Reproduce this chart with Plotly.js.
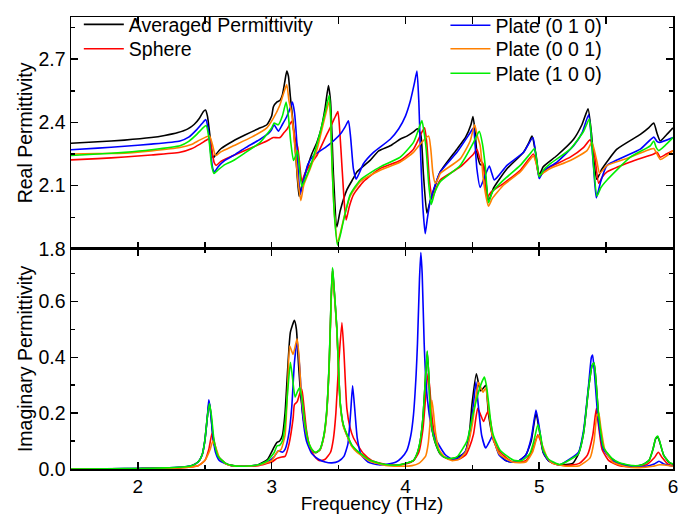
<!DOCTYPE html>
<html>
<head>
<meta charset="utf-8">
<script src="https://cdn.plot.ly/plotly-3.0.1.min.js"></script>
<style>html,body{margin:0;padding:0;background:#fff;}#chart{width:690px;height:514px;}</style>
</head>
<body>
<div id="chart"></div>
<script>
// Series names
const seriesNames = ["Averaged Permittivity", "Sphere", "Plate (0 1 0)", "Plate (0 0 1)", "Plate (1 0 0)"];
const seriesColors = ["#000000", "#ff0000", "#0000ff", "#ff8000", "#00ee00"];

// Real permittivity [frequency THz, value]
const avgRe = [[1.5,2.301],[1.7,2.308],[1.9,2.316],[2.1,2.328],[2.2,2.338],[2.3,2.352],[2.37,2.368],[2.42,2.39],[2.46,2.42],[2.49,2.452],[2.505,2.459],[2.52,2.43],[2.54,2.33],[2.555,2.25],[2.565,2.232],[2.58,2.245],[2.62,2.275],[2.713,2.312],[2.8,2.34],[2.9,2.37],[2.964,2.389],[3.0,2.43],[3.013,2.474],[3.04,2.497],[3.063,2.505],[3.08,2.53],[3.1,2.6],[3.113,2.644],[3.125,2.62],[3.14,2.52],[3.163,2.38],[3.185,2.2],[3.205,2.05],[3.225,2.1],[3.263,2.18],[3.3,2.25],[3.338,2.305],[3.37,2.37],[3.4,2.47],[3.424,2.575],[3.44,2.5],[3.462,2.15],[3.487,1.903],[3.512,1.98],[3.562,2.08],[3.61,2.134],[3.637,2.165],[3.736,2.22],[3.8,2.265],[3.886,2.289],[3.96,2.32],[4.011,2.335],[4.06,2.355],[4.09,2.37],[4.115,2.34],[4.135,2.15],[4.16,1.97],[4.185,2.026],[4.26,2.165],[4.385,2.273],[4.45,2.33],[4.49,2.39],[4.505,2.428],[4.52,2.36],[4.534,2.258],[4.56,2.2],[4.584,2.196],[4.605,2.1],[4.621,2.026],[4.66,2.09],[4.759,2.18],[4.883,2.258],[4.92,2.3],[4.946,2.335],[4.975,2.25],[5.0,2.15],[5.03,2.19],[5.133,2.243],[5.257,2.32],[5.32,2.39],[5.365,2.464],[5.39,2.35],[5.407,2.227],[5.43,2.13],[5.47,2.18],[5.581,2.273],[5.756,2.343],[5.82,2.375],[5.856,2.397],[5.88,2.35],[5.905,2.312],[5.95,2.34],[6.0,2.374]];
const sphereRe = [[1.5,2.222],[1.7,2.228],[1.9,2.236],[2.1,2.245],[2.315,2.258],[2.4,2.275],[2.465,2.297],[2.51,2.315],[2.535,2.323],[2.55,2.28],[2.57,2.21],[2.585,2.196],[2.62,2.215],[2.714,2.243],[2.85,2.28],[2.964,2.312],[3.0,2.325],[3.013,2.328],[3.063,2.328],[3.09,2.35],[3.113,2.366],[3.15,2.405],[3.165,2.36],[3.176,2.32],[3.195,2.281],[3.21,2.2],[3.225,2.12],[3.25,2.16],[3.3,2.21],[3.338,2.243],[3.412,2.343],[3.437,2.374],[3.47,2.42],[3.495,2.451],[3.51,2.35],[3.525,2.196],[3.545,2.0],[3.557,1.937],[3.58,2.0],[3.612,2.057],[3.686,2.119],[3.811,2.181],[3.961,2.219],[4.06,2.273],[4.12,2.35],[4.143,2.374],[4.16,2.3],[4.18,2.12],[4.202,2.042],[4.23,2.09],[4.26,2.127],[4.409,2.189],[4.509,2.25],[4.534,2.273],[4.56,2.22],[4.58,2.204],[4.595,2.12],[4.61,2.042],[4.64,2.07],[4.734,2.111],[4.858,2.173],[4.957,2.25],[4.98,2.2],[5.0,2.142],[5.04,2.17],[5.083,2.189],[5.232,2.235],[5.33,2.28],[5.38,2.317],[5.414,2.243],[5.444,2.111],[5.47,2.14],[5.507,2.165],[5.681,2.212],[5.856,2.25],[5.881,2.258],[5.905,2.235],[5.95,2.25],[6.0,2.266]];
const p010Re = [[1.5,2.27],[1.7,2.278],[1.9,2.287],[2.1,2.297],[2.315,2.312],[2.38,2.33],[2.44,2.366],[2.48,2.395],[2.508,2.413],[2.525,2.37],[2.545,2.25],[2.56,2.18],[2.572,2.165],[2.6,2.19],[2.65,2.22],[2.714,2.243],[2.8,2.278],[2.914,2.32],[2.98,2.35],[3.0,2.366],[3.018,2.389],[3.035,2.372],[3.05,2.358],[3.08,2.39],[3.113,2.428],[3.14,2.47],[3.155,2.497],[3.17,2.45],[3.188,2.305],[3.2,2.15],[3.213,2.057],[3.24,2.13],[3.27,2.2],[3.313,2.243],[3.4,2.28],[3.462,2.312],[3.52,2.35],[3.55,2.38],[3.574,2.408],[3.59,2.33],[3.611,2.18],[3.632,2.131],[3.655,2.16],[3.686,2.204],[3.761,2.258],[3.886,2.32],[3.95,2.37],[4.0,2.43],[4.036,2.5],[4.065,2.58],[4.086,2.644],[4.1,2.5],[4.11,2.305],[4.13,2.0],[4.148,1.872],[4.165,1.95],[4.185,2.026],[4.22,2.1],[4.26,2.165],[4.385,2.258],[4.484,2.351],[4.509,2.374],[4.52,2.3],[4.534,2.18],[4.559,2.091],[4.59,2.14],[4.627,2.193],[4.645,2.16],[4.664,2.127],[4.7,2.15],[4.759,2.196],[4.883,2.258],[4.953,2.328],[4.975,2.24],[5.0,2.134],[5.03,2.17],[5.133,2.212],[5.257,2.289],[5.32,2.35],[5.369,2.436],[5.39,2.32],[5.407,2.18],[5.427,2.042],[5.46,2.12],[5.507,2.196],[5.756,2.273],[5.856,2.33],[5.88,2.31],[5.9,2.305],[6.0,2.328]];
const p001Re = [[1.5,2.25],[1.7,2.252],[1.9,2.254],[2.1,2.265],[2.315,2.281],[2.4,2.295],[2.465,2.317],[2.535,2.335],[2.555,2.3],[2.575,2.25],[2.585,2.243],[2.62,2.26],[2.714,2.289],[2.85,2.33],[2.964,2.374],[3.013,2.42],[3.06,2.48],[3.09,2.54],[3.113,2.579],[3.13,2.5],[3.15,2.444],[3.175,2.273],[3.2,2.103],[3.218,2.029],[3.24,2.103],[3.288,2.18],[3.338,2.27],[3.362,2.33],[3.4,2.43],[3.43,2.5],[3.44,2.43],[3.45,2.22],[3.47,1.96],[3.492,1.83],[3.515,1.88],[3.537,1.94],[3.587,2.05],[3.662,2.119],[3.811,2.173],[3.961,2.212],[4.06,2.258],[4.11,2.297],[4.173,2.335],[4.19,2.27],[4.205,2.16],[4.223,2.111],[4.245,2.135],[4.26,2.158],[4.409,2.227],[4.484,2.312],[4.517,2.389],[4.54,2.33],[4.559,2.289],[4.584,2.119],[4.621,2.003],[4.65,2.04],[4.734,2.103],[4.858,2.165],[4.957,2.24],[4.98,2.2],[5.0,2.15],[5.04,2.165],[5.083,2.181],[5.232,2.219],[5.357,2.266],[5.394,2.305],[5.415,2.26],[5.432,2.212],[5.452,2.158],[5.507,2.196],[5.681,2.235],[5.83,2.273],[5.856,2.276],[5.893,2.235],[5.905,2.224],[5.95,2.24],[6.0,2.266]];
const p100Re = [[1.5,2.243],[1.7,2.25],[1.9,2.258],[2.1,2.27],[2.315,2.289],[2.38,2.31],[2.44,2.343],[2.48,2.37],[2.51,2.385],[2.53,2.33],[2.55,2.2],[2.569,2.158],[2.6,2.175],[2.65,2.2],[2.714,2.219],[2.8,2.255],[2.914,2.305],[3.0,2.374],[3.018,2.397],[3.035,2.392],[3.05,2.389],[3.08,2.43],[3.108,2.497],[3.125,2.43],[3.143,2.305],[3.163,2.219],[3.178,2.24],[3.193,2.266],[3.205,2.2],[3.225,2.096],[3.25,2.13],[3.288,2.189],[3.362,2.351],[3.4,2.45],[3.43,2.528],[3.44,2.45],[3.45,2.227],[3.47,1.95],[3.492,1.818],[3.515,1.87],[3.537,1.934],[3.587,2.057],[3.662,2.127],[3.811,2.189],[3.961,2.235],[4.06,2.305],[4.1,2.37],[4.123,2.409],[4.14,2.35],[4.155,2.273],[4.175,2.1],[4.193,2.011],[4.22,2.07],[4.26,2.119],[4.409,2.196],[4.509,2.305],[4.535,2.34],[4.552,2.358],[4.575,2.3],[4.596,2.196],[4.621,2.019],[4.65,2.07],[4.734,2.127],[4.858,2.196],[4.93,2.25],[4.965,2.276],[4.985,2.2],[5.0,2.142],[5.04,2.18],[5.083,2.204],[5.232,2.273],[5.332,2.358],[5.374,2.416],[5.39,2.33],[5.4,2.243],[5.432,2.05],[5.46,2.09],[5.507,2.127],[5.681,2.235],[5.83,2.289],[5.856,2.312],[5.875,2.28],[5.893,2.266],[5.94,2.29],[6.0,2.328]];

// Imaginary permittivity [frequency THz, value]
const avgIm = [[1.5,0],[2.0,0.002],[2.3,0.005],[2.4,0.012],[2.45,0.025],[2.48,0.05],[2.5,0.1],[2.52,0.19],[2.532,0.24],[2.545,0.2],[2.565,0.1],[2.6,0.045],[2.65,0.022],[2.7,0.013],[2.8,0.01],[2.9,0.015],[2.97,0.035],[3.02,0.08],[3.04,0.095],[3.06,0.1],[3.08,0.12],[3.1,0.2],[3.12,0.36],[3.14,0.49],[3.17,0.532],[3.185,0.5],[3.2,0.38],[3.22,0.25],[3.25,0.14],[3.28,0.085],[3.31,0.063],[3.33,0.058],[3.36,0.068],[3.39,0.118],[3.41,0.195],[3.43,0.375],[3.445,0.615],[3.455,0.718],[3.465,0.655],[3.487,0.503],[3.512,0.238],[3.535,0.158],[3.562,0.122],[3.6,0.083],[3.637,0.064],[3.736,0.03],[3.85,0.015],[3.936,0.013],[4.0,0.02],[4.06,0.03],[4.09,0.058],[4.11,0.098],[4.13,0.178],[4.143,0.272],[4.163,0.42],[4.175,0.328],[4.185,0.215],[4.2,0.138],[4.22,0.098],[4.26,0.054],[4.3,0.04],[4.35,0.037],[4.4,0.045],[4.447,0.06],[4.48,0.14],[4.497,0.23],[4.53,0.341],[4.56,0.28],[4.575,0.285],[4.6,0.3],[4.62,0.2],[4.65,0.12],[4.7,0.055],[4.75,0.03],[4.8,0.025],[4.85,0.03],[4.9,0.05],[4.94,0.1],[4.976,0.2],[5.0,0.14],[5.03,0.058],[5.07,0.029],[5.15,0.015],[5.25,0.02],[5.294,0.055],[5.332,0.13],[5.369,0.29],[5.395,0.37],[5.41,0.378],[5.425,0.31],[5.444,0.19],[5.48,0.075],[5.544,0.036],[5.6,0.02],[5.7,0.01],[5.77,0.015],[5.82,0.03],[5.85,0.07],[5.87,0.108],[5.885,0.115],[5.9,0.098],[5.93,0.05],[5.97,0.024],[6.0,0.017]];
const sphereIm = [[1.5,0],[2.0,0.001],[2.3,0.004],[2.45,0.012],[2.5,0.03],[2.53,0.07],[2.555,0.13],[2.57,0.1],[2.6,0.045],[2.65,0.02],[2.7,0.012],[2.8,0.01],[2.9,0.012],[3.0,0.025],[3.04,0.038],[3.076,0.043],[3.1,0.045],[3.13,0.09],[3.16,0.18],[3.17,0.23],[3.19,0.24],[3.21,0.27],[3.225,0.286],[3.24,0.23],[3.26,0.14],[3.29,0.07],[3.33,0.04],[3.36,0.03],[3.4,0.035],[3.44,0.06],[3.462,0.11],[3.48,0.2],[3.5,0.37],[3.525,0.524],[3.54,0.42],[3.562,0.217],[3.585,0.15],[3.611,0.112],[3.686,0.055],[3.75,0.03],[3.85,0.016],[3.9,0.014],[4.0,0.018],[4.06,0.03],[4.1,0.06],[4.13,0.14],[4.15,0.25],[4.168,0.341],[4.18,0.3],[4.2,0.18],[4.23,0.09],[4.27,0.05],[4.33,0.035],[4.4,0.035],[4.45,0.05],[4.48,0.08],[4.509,0.125],[4.54,0.217],[4.565,0.19],[4.584,0.17],[4.605,0.195],[4.62,0.208],[4.64,0.16],[4.659,0.1],[4.709,0.06],[4.8,0.025],[4.9,0.03],[4.95,0.07],[4.99,0.122],[5.01,0.1],[5.04,0.05],[5.1,0.02],[5.2,0.012],[5.3,0.02],[5.36,0.05],[5.4,0.12],[5.427,0.217],[5.44,0.17],[5.47,0.07],[5.52,0.03],[5.6,0.012],[5.7,0.008],[5.8,0.015],[5.86,0.04],[5.89,0.06],[5.92,0.04],[5.96,0.018],[6.0,0.01]];
const p010Im = [[1.5,0],[1.8,0.001],[2.0,0.002],[2.2,0.004],[2.3,0.006],[2.4,0.012],[2.45,0.025],[2.48,0.05],[2.5,0.1],[2.52,0.19],[2.53,0.248],[2.54,0.22],[2.56,0.12],[2.58,0.06],[2.61,0.03],[2.7,0.012],[2.8,0.01],[2.9,0.015],[2.97,0.025],[3.02,0.045],[3.05,0.065],[3.08,0.06],[3.1,0.07],[3.13,0.13],[3.15,0.22],[3.17,0.38],[3.19,0.46],[3.21,0.36],[3.23,0.2],[3.26,0.1],[3.3,0.055],[3.35,0.035],[3.4,0.025],[3.45,0.022],[3.5,0.028],[3.54,0.045],[3.57,0.09],[3.59,0.2],[3.605,0.298],[3.62,0.22],[3.64,0.11],[3.67,0.05],[3.72,0.025],[3.8,0.015],[3.87,0.018],[3.93,0.025],[3.97,0.04],[4.01,0.066],[4.04,0.12],[4.06,0.194],[4.08,0.34],[4.09,0.45],[4.105,0.68],[4.115,0.775],[4.125,0.7],[4.14,0.45],[4.155,0.3],[4.172,0.217],[4.19,0.16],[4.21,0.124],[4.26,0.078],[4.3,0.05],[4.35,0.035],[4.4,0.04],[4.45,0.065],[4.48,0.12],[4.51,0.24],[4.527,0.312],[4.54,0.25],[4.57,0.12],[4.6,0.075],[4.63,0.1],[4.65,0.118],[4.67,0.09],[4.7,0.05],[4.75,0.03],[4.8,0.025],[4.85,0.03],[4.9,0.05],[4.94,0.11],[4.976,0.211],[5.0,0.15],[5.03,0.06],[5.07,0.03],[5.15,0.015],[5.2,0.027],[5.294,0.06],[5.332,0.14],[5.369,0.3],[5.39,0.4],[5.399,0.408],[5.415,0.33],[5.44,0.18],[5.48,0.07],[5.544,0.032],[5.6,0.018],[5.7,0.008],[5.8,0.01],[5.86,0.018],[5.895,0.028],[5.93,0.018],[6.0,0.01]];
const p001Im = [[1.5,0],[2.0,0.001],[2.3,0.004],[2.45,0.012],[2.5,0.03],[2.54,0.07],[2.56,0.1],[2.58,0.08],[2.61,0.04],[2.66,0.018],[2.7,0.012],[2.8,0.01],[2.9,0.014],[3.0,0.03],[3.04,0.06],[3.07,0.07],[3.1,0.12],[3.12,0.3],[3.135,0.44],[3.16,0.41],[3.19,0.466],[3.205,0.4],[3.22,0.28],[3.25,0.15],[3.28,0.09],[3.31,0.064],[3.33,0.06],[3.36,0.068],[3.39,0.115],[3.41,0.19],[3.43,0.37],[3.445,0.6],[3.455,0.71],[3.465,0.65],[3.487,0.5],[3.512,0.235],[3.535,0.155],[3.562,0.12],[3.6,0.08],[3.637,0.06],[3.736,0.028],[3.85,0.013],[3.95,0.01],[4.05,0.012],[4.1,0.02],[4.15,0.045],[4.17,0.09],[4.185,0.17],[4.198,0.246],[4.21,0.2],[4.225,0.13],[4.25,0.07],[4.3,0.04],[4.35,0.03],[4.4,0.035],[4.45,0.06],[4.5,0.16],[4.53,0.27],[4.546,0.31],[4.565,0.29],[4.58,0.275],[4.6,0.29],[4.62,0.22],[4.65,0.12],[4.7,0.055],[4.8,0.025],[4.9,0.025],[4.95,0.06],[4.985,0.115],[5.0,0.12],[5.02,0.09],[5.06,0.04],[5.1,0.02],[5.2,0.01],[5.3,0.012],[5.38,0.04],[5.41,0.1],[5.43,0.19],[5.445,0.2],[5.46,0.15],[5.49,0.07],[5.55,0.025],[5.65,0.008],[5.75,0.005],[5.85,0.01],[5.9,0.015],[6.0,0.01]];
const p100Im = [[1.5,0],[1.8,0.001],[2.0,0.002],[2.2,0.004],[2.3,0.006],[2.4,0.012],[2.45,0.025],[2.48,0.05],[2.5,0.1],[2.52,0.19],[2.535,0.234],[2.55,0.19],[2.57,0.1],[2.6,0.045],[2.65,0.022],[2.7,0.013],[2.8,0.01],[2.9,0.015],[2.97,0.03],[3.02,0.06],[3.04,0.083],[3.06,0.085],[3.08,0.1],[3.1,0.16],[3.12,0.28],[3.14,0.382],[3.155,0.33],[3.175,0.257],[3.195,0.28],[3.21,0.292],[3.23,0.24],[3.25,0.16],[3.28,0.09],[3.31,0.065],[3.33,0.06],[3.36,0.07],[3.39,0.12],[3.41,0.2],[3.43,0.38],[3.445,0.62],[3.455,0.721],[3.465,0.66],[3.487,0.507],[3.512,0.24],[3.535,0.16],[3.562,0.125],[3.6,0.085],[3.637,0.066],[3.736,0.031],[3.85,0.016],[3.936,0.014],[4.0,0.02],[4.06,0.031],[4.09,0.06],[4.11,0.1],[4.13,0.18],[4.143,0.275],[4.163,0.423],[4.175,0.33],[4.185,0.217],[4.2,0.14],[4.22,0.1],[4.26,0.055],[4.3,0.04],[4.35,0.038],[4.385,0.043],[4.46,0.1],[4.484,0.147],[4.509,0.205],[4.546,0.275],[4.57,0.31],[4.59,0.329],[4.605,0.3],[4.621,0.24],[4.64,0.16],[4.659,0.118],[4.709,0.066],[4.809,0.031],[4.87,0.03],[4.93,0.055],[4.96,0.1],[4.99,0.159],[5.01,0.12],[5.03,0.066],[5.07,0.035],[5.15,0.016],[5.2,0.025],[5.294,0.055],[5.332,0.13],[5.369,0.29],[5.395,0.37],[5.41,0.38],[5.425,0.31],[5.444,0.195],[5.48,0.078],[5.544,0.038],[5.6,0.022],[5.7,0.012],[5.77,0.015],[5.82,0.03],[5.85,0.07],[5.87,0.11],[5.885,0.118],[5.9,0.1],[5.93,0.05],[5.97,0.025],[6.0,0.018]];

const realSets = [avgRe, sphereRe, p010Re, p001Re, p100Re];
const imagSets = [avgIm, sphereIm, p010Im, p001Im, p100Im];
const legendIds = ["legend", "legend2", "legend3", "legend4", "legend5"];
// legend anchor positions (paper coords)
const legendX = [0.013, 0.013, 0.622, 0.622, 0.622];
const legendY = [0.983, 0.929, 0.981, 0.929, 0.875];

const FONT = "Liberation Sans, Arial, sans-serif";
const FS = 19.5;
const traces = [];
realSets.forEach((s, i) => {
  traces.push({
    x: s.map(p => p[0]), y: s.map(p => p[1]),
    xaxis: "x", yaxis: "y", type: "scatter", mode: "lines",
    name: seriesNames[i], legend: legendIds[i],
    line: {color: seriesColors[i], width: 1.6, shape: "spline", smoothing: 0.5},
    showlegend: true
  });
});
imagSets.forEach((s, i) => {
  traces.push({
    x: s.map(p => p[0]), y: s.map(p => p[1]),
    xaxis: "x", yaxis: "y2", type: "scatter", mode: "lines",
    name: seriesNames[i], legend: legendIds[i],
    line: {color: seriesColors[i], width: 1.6, shape: "spline", smoothing: 0.5},
    showlegend: false
  });
});

const axisCommon = {
  showline: true, linecolor: "#000", linewidth: 1.5,
  ticks: "inside", ticklen: 7, tickwidth: 1.5, tickcolor: "#000",
  showgrid: false, zeroline: false,
  tickfont: {family: FONT, size: FS, color: "#000"}
};

const layout = {
  width: 690, height: 514,
  margin: {l: 71, r: 17, t: 5, b: 45},
  paper_bgcolor: "#fff", plot_bgcolor: "#fff",
  font: {family: FONT, size: FS, color: "#000"},
  xaxis: Object.assign({}, axisCommon, {
    anchor: "y2", range: [1.5, 6], dtick: 1, tick0: 0, mirror: "allticks",
    tickfont: {family: FONT, size: 19, color: "#000"},
    minor: {dtick: 0.5, ticks: "inside", ticklen: 4, tickwidth: 1.5, tickcolor: "#000"},
    title: {text: "Frequency (THz)", font: {family: FONT, size: 19}, standoff: 3}
  }),
  yaxis: Object.assign({}, axisCommon, {
    anchor: "x", domain: [0.487, 1], range: [1.8, 2.9], tick0: 1.8, dtick: 0.3,
    tickformat: ".1f", mirror: "ticks",
    minor: {dtick: 0.15, tick0: 1.8, ticks: "inside", ticklen: 4, tickwidth: 1.5, tickcolor: "#000"},
    title: {text: "Real Permittivity", font: {family: FONT, size: FS}, standoff: 0}
  }),
  yaxis2: Object.assign({}, axisCommon, {
    anchor: "x", domain: [0, 0.487], range: [0, 0.788], tick0: 0, dtick: 0.2,
    tickformat: ".1f", mirror: "ticks",
    minor: {dtick: 0.1, ticks: "inside", ticklen: 4, tickwidth: 1.5, tickcolor: "#000"},
    title: {text: "Imaginary Permittivity", font: {family: FONT, size: FS}, standoff: 0}
  }),
  showlegend: true
};
legendIds.forEach((id, i) => {
  layout[id] = {
    x: legendX[i], y: legendY[i], xanchor: "left", yanchor: "middle",
    bgcolor: "rgba(0,0,0,0)", borderwidth: 0,
    font: {family: FONT, size: FS, color: "#000"},
    itemwidth: 40
  };
});

Plotly.newPlot("chart", traces, layout, {displayModeBar: false, staticPlot: true});
</script>
</body>
</html>
